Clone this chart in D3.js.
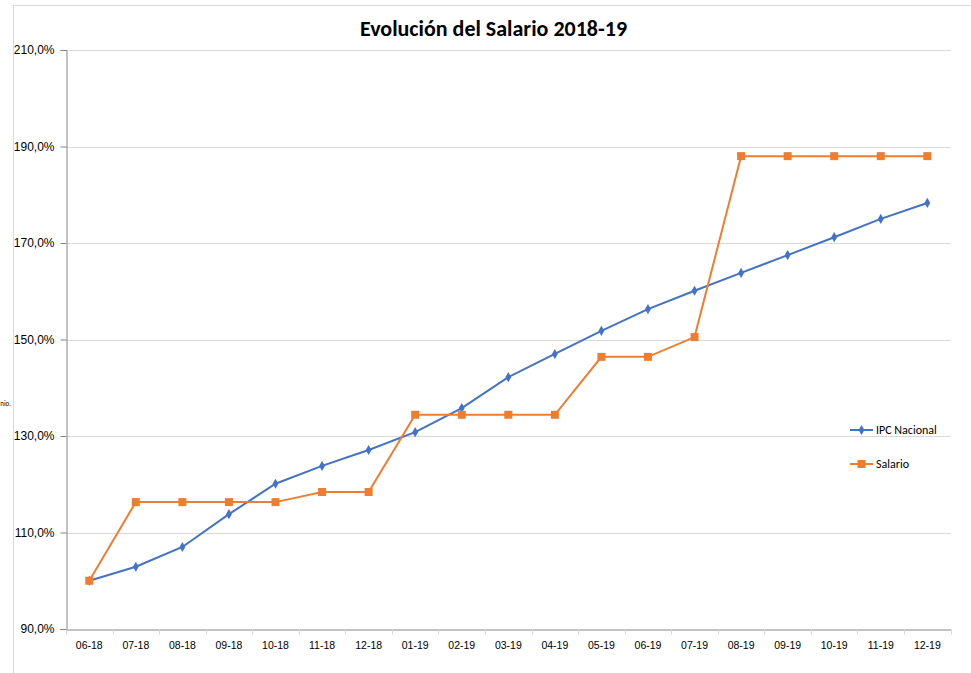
<!DOCTYPE html>
<html>
<head>
<meta charset="utf-8">
<script src="https://cdn.jsdelivr.net/npm/d3@7"></script>
<style>
  body { margin: 0; background: #fff; }
  svg { font-family: Calibri, Carlito, "Open Sans", sans-serif; }
</style>
</head>
<body>
<svg id="chart" width="971" height="673"></svg>
<script>
const months = ['06-18','07-18','08-18','09-18','10-18','11-18','12-18','01-19','02-19','03-19',
  '04-19','05-19','06-19','07-19','08-19','09-19','10-19','11-19','12-19']
const ipc = [100, 102.9, 107.0, 113.8, 120.1, 123.8, 127.1, 130.8, 135.8, 142.2,
  147.0, 151.8, 156.3, 160.1, 163.8, 167.5, 171.2, 175.0, 178.3]
const salario = [100, 116.3, 116.3, 116.3, 116.3, 118.4, 118.4, 134.4, 134.4, 134.4,
  134.4, 146.4, 146.4, 150.5, 188.0, 188.0, 188.0, 188.0, 188.0]
const yTicks = [90, 110, 130, 150, 170, 190, 210]

const svg = d3.select('#chart')
const blue = '#4472C4'
const orange = '#ED7D31'
const axisColor = '#868686'
const gridColor = '#d9d9d9'

const pLeft = 66, pRight = 950.6, pTop = 50, pBottom = 629

// chart border
svg.append('rect')
  .attr('x', 13.5).attr('y', 5.5)
  .attr('width', 980).attr('height', 700)
  .attr('fill', 'none').attr('stroke', gridColor)

const xScale = d3.scaleBand().domain(months).range([pLeft, pRight])
const yScale = d3.scaleLinear().domain([90, 210]).range([pBottom, pTop])

// grid
svg.append('g').selectAll('line').data(yTicks.slice(1)).enter()
  .append('line')
  .attr('x1', pLeft).attr('x2', pRight)
  .attr('y1', d => Math.round(yScale(d)) + 0.5).attr('y2', d => Math.round(yScale(d)) + 0.5)
  .attr('stroke', gridColor)

// y axis
const yAxis = d3.axisLeft(yScale).tickValues(yTicks).tickSize(6).tickPadding(6)
  .tickFormat(d => d3.format('.1f')(d).replace('.', ',') + '%')
const gy = svg.append('g').attr('transform', `translate(${pLeft + 0.5},0)`).call(yAxis)
gy.select('.domain').attr('stroke', axisColor)
gy.selectAll('.tick line').attr('stroke', axisColor)
gy.selectAll('.tick text').attr('fill', '#000').attr('font-size', 12)

// x axis
const xAxis = d3.axisBottom(xScale).tickSize(0).tickPadding(12)
const gx = svg.append('g').attr('transform', `translate(0,${pBottom + 0.5})`).call(xAxis)
gx.select('.domain').attr('stroke', axisColor)
gx.selectAll('.tick text').attr('fill', '#000').attr('font-size', 10.5)
gx.selectAll('line.bt').data(d3.range(months.length + 1)).enter()
  .append('line').attr('class', 'bt')
  .attr('x1', i => Math.round(pLeft + i * xScale.step()) + 0.5)
  .attr('x2', i => Math.round(pLeft + i * xScale.step()) + 0.5)
  .attr('y1', 0).attr('y2', 5)
  .attr('stroke', gridColor)

const cx = d => xScale(d) + xScale.bandwidth() / 2

const line = d3.line().x(d => cx(d[0])).y(d => yScale(d[1]))

// ipc
svg.append('path')
  .attr('d', line(months.map((m, i) => [m, ipc[i]])))
  .attr('fill', 'none').attr('stroke', blue).attr('stroke-width', 2)
svg.append('g').selectAll('path').data(months).enter()
  .append('path')
  .attr('d', d3.symbol(d3.symbolDiamond, 30))
  .attr('transform', (d, i) => `translate(${cx(d)},${yScale(ipc[i])})`)
  .attr('fill', blue)

// salario
svg.append('path')
  .attr('d', line(months.map((m, i) => [m, salario[i]])))
  .attr('fill', 'none').attr('stroke', orange).attr('stroke-width', 2)
svg.append('g').selectAll('rect').data(months).enter()
  .append('rect')
  .attr('x', (d) => cx(d) - 4).attr('y', (d, i) => yScale(salario[i]) - 4)
  .attr('width', 8).attr('height', 8).attr('fill', orange)

// title
svg.append('text')
  .attr('x', 493.5).attr('y', 36)
  .attr('text-anchor', 'middle')
  .attr('font-size', 22).attr('font-weight', 'bold')
  .attr('fill', '#000')
  .text('Evolución del Salario 2018-19')

// cut off axis title
svg.append('text')
  .attr('x', 11).attr('y', 406)
  .attr('text-anchor', 'end')
  .attr('font-size', 7).attr('fill', '#000')
  .text('nio.')

// legend
const legend = [['IPC Nacional', blue, 'diamond'], ['Salario', orange, 'square']]
legend.forEach((l, i) => {
  const y = 430 + i * 34
  svg.append('line').attr('x1', 850).attr('x2', 873).attr('y1', y).attr('y2', y)
    .attr('stroke', l[1]).attr('stroke-width', 2)
  if (l[2] === 'diamond') {
    svg.append('path').attr('d', d3.symbol(d3.symbolDiamond, 30))
      .attr('transform', `translate(861.5,${y})`).attr('fill', l[1])
  } else {
    svg.append('rect').attr('x', 857.5).attr('y', y - 4).attr('width', 8).attr('height', 8)
      .attr('fill', l[1])
  }
  svg.append('text').attr('x', 876).attr('y', y + 4)
    .attr('font-size', 12).attr('fill', '#000').text(l[0])
})
</script>
</body>
</html>
